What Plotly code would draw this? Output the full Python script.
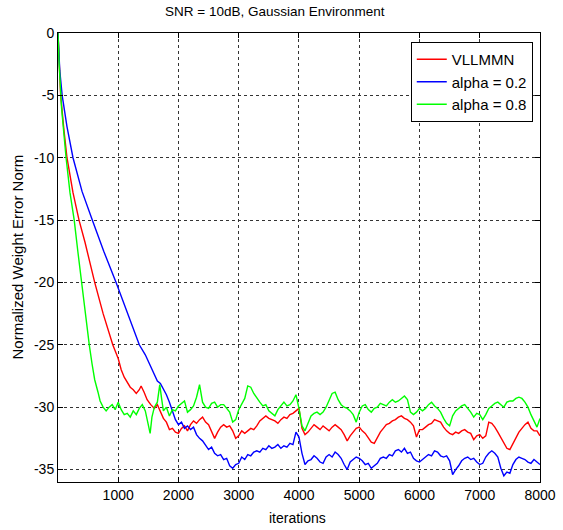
import plotly.graph_objects as go

# shared x grid for the steady-state part of every curve
iters_tail = list(range(2000, 8001, 50))

# VLLMMN (red)
vll_head_x = [1, 20, 45, 100, 150, 250, 350, 450, 610, 750, 910, 1000, 1050, 1100, 1150, 1200,
              1250, 1300, 1350, 1380, 1430, 1480, 1540, 1600, 1650, 1700, 1750, 1800, 1850, 1900, 1950]
vll_head_y = [0.0, -2.0, -5.0, -7.8, -10.0, -12.8, -15.0, -16.8, -20.0, -22.5, -25.0, -26.1, -27.0,
              -27.6, -28.0, -28.4, -28.6, -28.9, -28.6, -28.3, -28.8, -29.4, -29.8, -30.1, -29.8,
              -30.3, -30.9, -31.2, -31.8, -31.7, -32.0]
vll_tail = [-32.1, -31.7, -31.5, -31.9, -31.4, -31.1, -31.3, -31.0, -30.8, -31.2,
            -31.4, -32.0, -32.5, -32.0, -31.6, -31.4, -31.6, -31.5, -31.9, -32.5,
            -32.3, -31.9, -32.1, -31.9, -31.7, -31.8, -31.5, -31.1, -30.9, -30.7,
            -30.9, -31.0, -31.1, -31.3, -31.0, -30.8, -30.9, -30.6, -30.5, -30.3,
            -30.1, -31.7, -32.2, -32.0, -31.7, -31.4, -31.6, -31.8, -31.5, -31.7,
            -31.9, -31.6, -31.4, -31.6, -31.8, -32.2, -32.7, -32.3, -32.0, -31.7,
            -31.6, -31.9, -32.1, -32.5, -32.8, -32.9, -32.4, -32.0, -31.7, -31.4,
            -31.3, -31.1, -31.0, -30.8, -30.7, -30.9, -31.0, -31.2, -31.5, -32.4,
            -31.8, -31.8, -31.6, -31.4, -31.3, -31.0, -31.1, -31.2, -31.6, -31.9,
            -32.1, -32.2, -32.0, -32.1, -31.9, -31.8, -32.0, -32.1, -32.6, -32.3,
            -32.2, -32.5, -32.3, -31.2, -31.3, -31.6, -32.0, -32.4, -32.8, -33.3,
            -33.4, -32.9, -32.4, -32.0, -31.7, -31.4, -31.2, -31.7, -31.9, -31.9,
            -32.3]

# alpha = 0.2 (blue)
a02_head_x = [1, 30, 70, 150, 250, 400, 570, 760, 965, 1150, 1350, 1450, 1530, 1600, 1650, 1700,
              1760, 1800, 1850, 1900, 1950]
a02_head_y = [0.0, -3.0, -5.0, -7.5, -10.0, -12.7, -15.0, -17.5, -20.0, -22.4, -25.0, -25.8, -26.6,
              -27.3, -27.9, -28.1, -28.6, -29.0, -29.6, -30.3, -31.0]
a02_tail = [-31.4, -31.2, -31.7, -31.5, -31.8, -31.6, -32.2, -32.5, -32.7, -33.1,
            -33.4, -33.2, -33.7, -33.9, -33.8, -34.2, -34.1, -34.7, -34.9, -34.6,
            -34.5, -34.0, -34.2, -33.8, -33.9, -33.6, -33.5, -33.6, -33.3, -33.4,
            -33.1, -33.3, -33.2, -33.0, -33.3, -33.1, -33.2, -32.9, -33.0, -32.0,
            -32.4, -33.7, -34.6, -34.3, -34.2, -33.9, -34.1, -34.4, -34.5, -34.0,
            -33.8, -34.0, -33.6, -33.8, -34.1, -34.6, -35.0, -34.4, -34.2, -34.0,
            -34.1, -34.3, -34.6, -34.5, -34.9, -34.7, -34.5, -34.1, -34.0, -34.1,
            -33.8, -33.9, -33.5, -33.4, -33.6, -33.3, -33.7, -33.6, -34.1, -34.3,
            -34.4, -34.2, -34.0, -33.8, -33.9, -33.5, -33.6, -33.9, -34.0, -33.9,
            -34.3, -35.4, -35.0, -34.7, -34.3, -34.1, -34.0, -34.2, -34.1, -34.4,
            -34.6, -34.5, -34.0, -33.7, -33.5, -33.7, -34.0, -34.9, -35.5, -35.2,
            -35.3, -34.6, -34.2, -34.0, -34.1, -34.2, -34.4, -34.5, -34.2, -34.4,
            -34.6]

# alpha = 0.8 (green)
a08_head_x = [1, 20, 60, 135, 200, 270, 330, 390, 450, 520, 565, 610, 665, 700, 750, 800, 850, 900,
              950, 1000, 1050, 1100, 1150, 1200, 1250, 1300, 1350, 1400, 1450, 1500, 1530, 1560,
              1600, 1650, 1690, 1720, 1750, 1800, 1850, 1900, 1950]
a08_head_y = [0.0, -2.5, -6.0, -10.0, -12.8, -15.0, -17.5, -20.0, -22.5, -25.0, -26.5, -27.8, -28.8,
              -29.5, -30.0, -30.3, -30.0, -29.8, -30.2, -29.6, -30.2, -30.6, -30.5, -30.8, -30.3,
              -30.6, -30.1, -29.8, -30.3, -31.5, -32.1, -30.8, -30.0, -29.6, -28.2, -29.3, -30.3,
              -30.0, -30.7, -30.2, -30.3]
a08_tail = [-29.9, -29.7, -29.5, -30.4, -30.2, -29.9, -29.2, -28.2, -29.6, -30.0,
            -30.1, -29.7, -29.6, -30.0, -29.8, -29.8, -30.1, -30.4, -31.2, -31.0,
            -30.2, -29.7, -29.3, -28.3, -28.4, -28.9, -29.3, -29.6, -29.9, -29.8,
            -30.3, -30.5, -30.7, -30.2, -29.9, -29.6, -29.9, -29.8, -29.5, -29.0,
            -30.1, -31.5, -31.9, -31.3, -30.7, -30.5, -30.4, -30.6, -30.4, -30.0,
            -29.5, -28.9, -28.8, -29.4, -29.8, -30.0, -30.1, -30.3, -30.6, -31.2,
            -30.4, -29.9, -29.8, -30.2, -30.4, -30.1, -30.0, -29.7, -29.8, -29.9,
            -29.6, -29.4, -29.6, -29.5, -29.3, -29.1, -29.4, -30.4, -30.6, -30.4,
            -30.1, -30.3, -30.1, -29.8, -29.6, -29.9, -30.1, -30.4, -30.9, -31.3,
            -31.5, -30.7, -30.3, -30.1, -29.9, -29.8, -30.1, -30.4, -30.8, -30.5,
            -30.6, -31.0, -30.6, -30.1, -29.9, -29.7, -29.6, -29.8, -30.0, -29.6,
            -29.5, -29.5, -29.3, -29.2, -29.3, -29.6, -30.0, -30.6, -31.1, -31.6,
            -30.9]

series_names = ["VLLMMN", "alpha = 0.2", "alpha = 0.8"]
series_colors = ["#ff0000", "#0000ff", "#00ff00"]

x_ticks = [1000, 2000, 3000, 4000, 5000, 6000, 7000, 8000]
y_ticks = [0, -5, -10, -15, -20, -25, -30, -35]
y_ticktext = ["0", "-5", "-10", "-15", "-20", "-25", "-30", "-35"]

FONT = "Liberation Sans, Arial, sans-serif"

fig = go.Figure()
curves = [(vll_head_x, vll_head_y, vll_tail),
          (a02_head_x, a02_head_y, a02_tail),
          (a08_head_x, a08_head_y, a08_tail)]
for (hx, hy, tail), name, col in zip(curves, series_names, series_colors):
    fig.add_trace(go.Scatter(x=hx + iters_tail, y=hy + tail, mode="lines", name=name,
                             line=dict(color=col, width=1.4)))

axis_common = dict(showline=True, linecolor="black", linewidth=1, mirror="ticks",
                   ticks="inside", ticklen=5, tickcolor="black", automargin=False,
                   showgrid=True, gridcolor="#333333", gridwidth=1, griddash="3px,3px",
                   zeroline=False, tickfont=dict(family=FONT, size=14, color="black"))

fig.update_xaxes(range=[1, 8000], tickvals=x_ticks, **axis_common)
fig.update_yaxes(range=[-36, 0], tickvals=y_ticks, ticktext=y_ticktext, **axis_common)

fig.update_layout(
    width=563, height=530,
    margin=dict(l=58, r=23, t=33, b=48, autoexpand=False),
    paper_bgcolor="white", plot_bgcolor="white",
    font=dict(family=FONT, size=14, color="black"),
    legend=dict(x=0.985, y=0.98, xanchor="right", yanchor="top",
                bgcolor="white", bordercolor="black", borderwidth=1,
                font=dict(family=FONT, size=15, color="black")),
    annotations=[
        dict(text="SNR = 10dB, Gaussian Environment", x=0.451, y=1.047, xref="paper", yref="paper",
             showarrow=False, xanchor="center", yanchor="middle", font=dict(size=13.5)),
        dict(text="iterations", x=0.496, y=-0.080, xref="paper", yref="paper",
             showarrow=False, xanchor="center", yanchor="middle", font=dict(size=14)),
        dict(text="Normalized Weight Error Norm", x=-0.085, y=0.50, xref="paper", yref="paper",
             showarrow=False, xanchor="center", yanchor="middle", textangle=-90, font=dict(size=15)),
    ],
)

# page body has a default 8px margin; drop it so the figure sits at the window origin
fig.write_html("out.html", config={"displayModeBar": False},
               post_script="document.body.style.margin='0';")
